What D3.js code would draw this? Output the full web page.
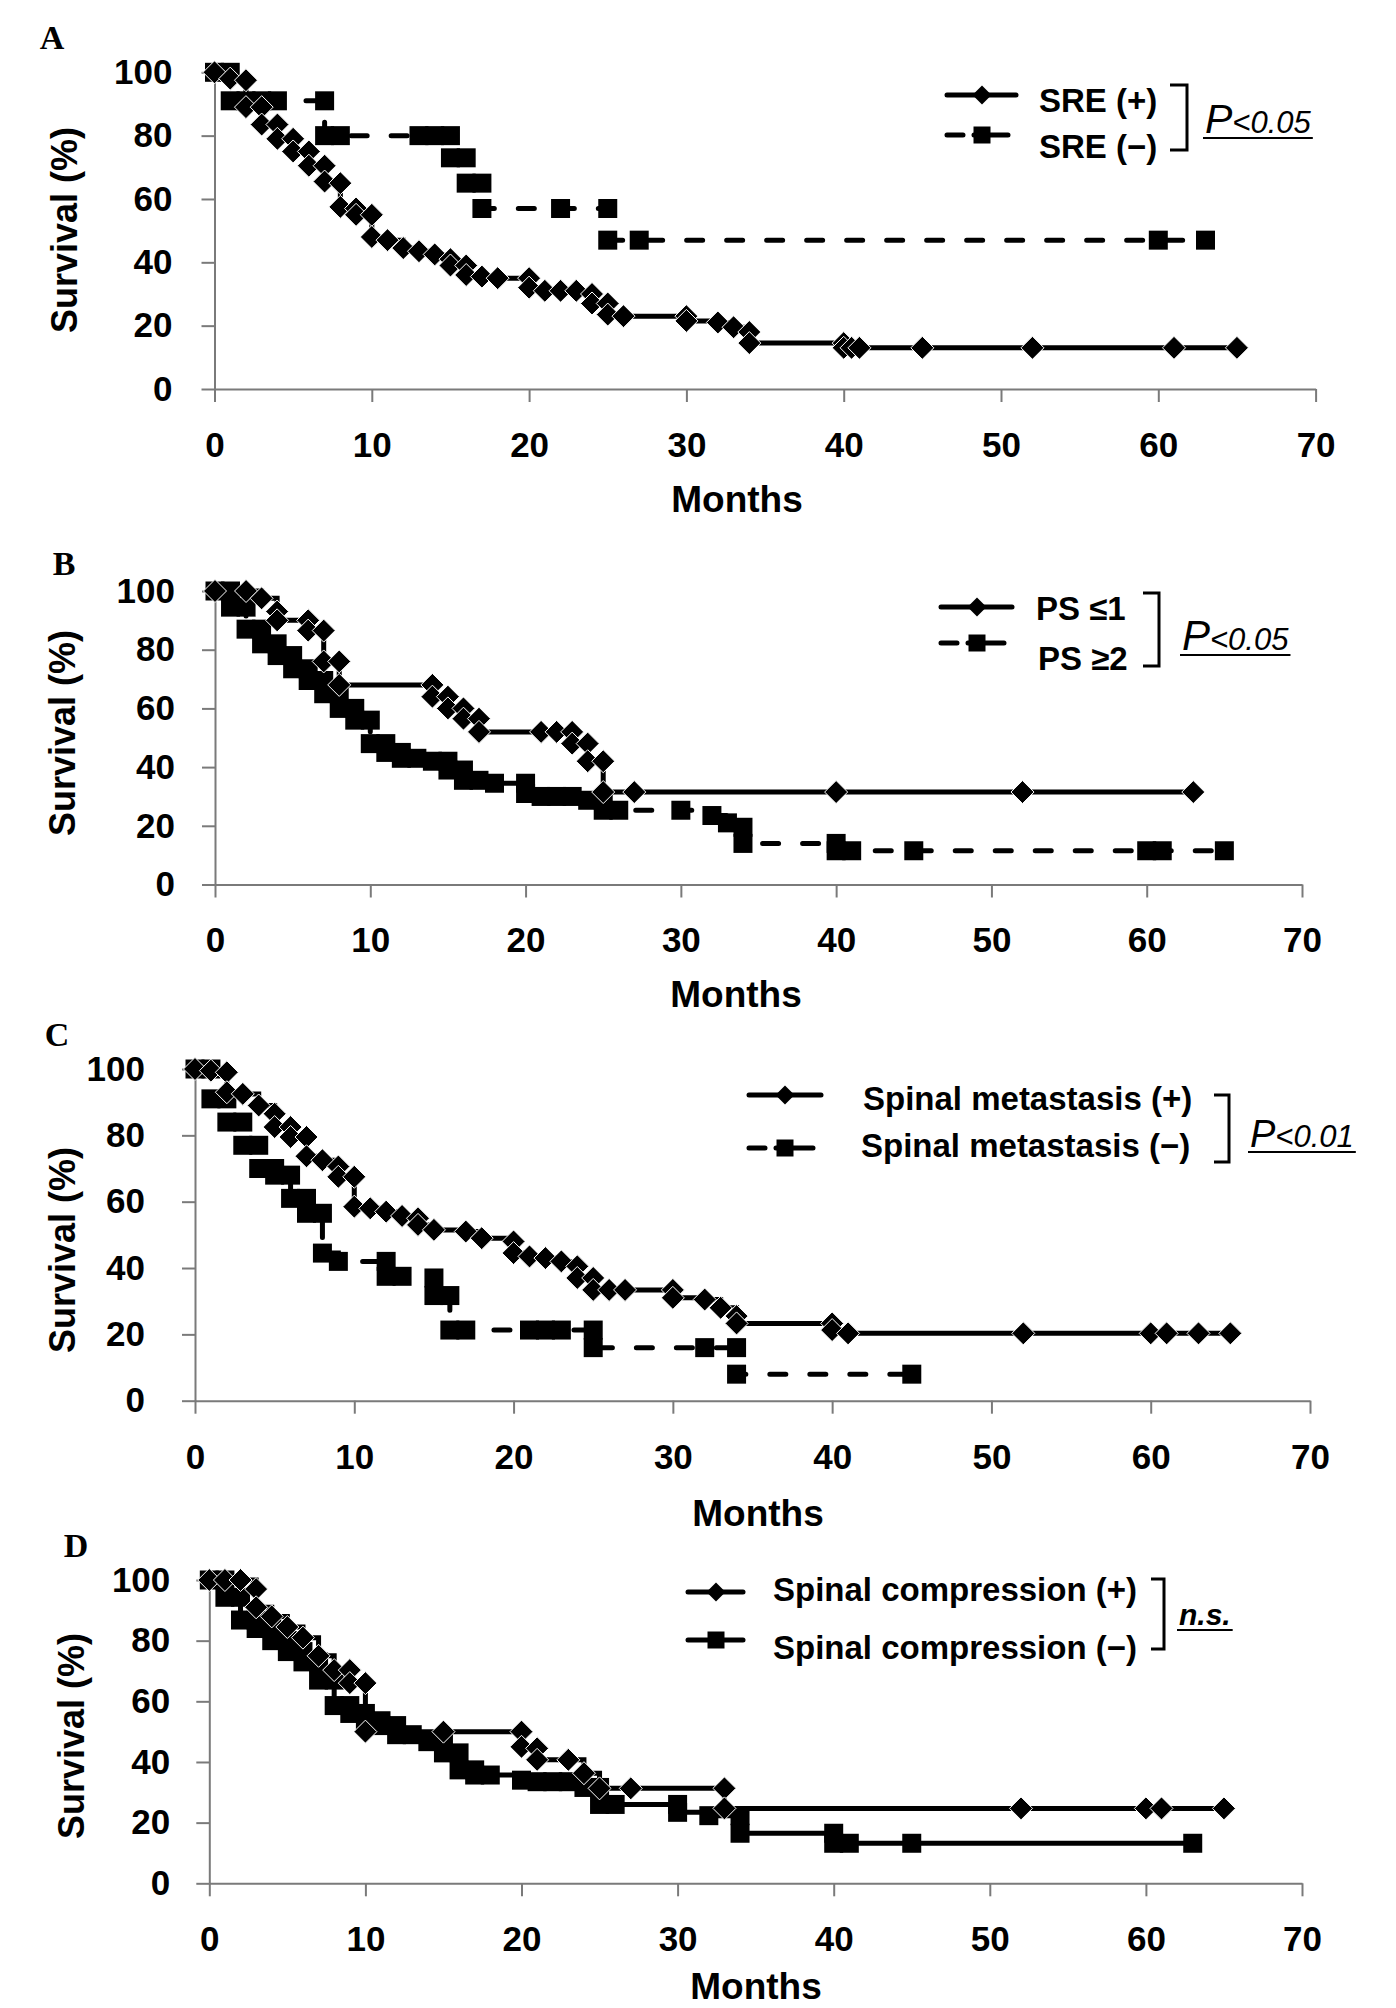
<!DOCTYPE html>
<html>
<head>
<meta charset="utf-8">
<script src="https://cdn.jsdelivr.net/npm/d3@7"></script>
<style>
  body { margin: 0; background: #fff; }
  text { font-family: "Liberation Sans", Arial, sans-serif; }
</style>
</head>
<body>
<div id="chart"></div>
<script>
// tick values shared by all four panels
var monthTicks = [0, 10, 20, 30, 40, 50, 60, 70];
var survivalTicks = [0, 20, 40, 60, 80, 100];

// A: SRE
var srePosMonths = [0, 1, 2, 2, 3, 3, 4, 4, 5, 5, 6, 6, 7, 7, 8, 8, 9, 9, 10, 10, 11, 12, 13, 14, 15, 15, 16, 16, 17, 18, 20, 20, 21, 22, 23, 24, 24, 25, 25, 26, 30, 30, 32, 33, 34, 34, 40, 40, 40.5, 41, 45, 52, 61, 65];
var srePosSurv = [100, 98, 97.5, 89, 89, 83.5, 83.5, 79, 79, 75, 75, 70.5, 70.5, 65.5, 65, 57.5, 57, 55, 55, 48, 47, 44.5, 43.5, 42.5, 41, 39, 39, 36, 35.5, 35, 35, 32, 31, 31, 31, 30, 27, 27, 23.5, 23, 23, 21.5, 21, 19.5, 18, 14.5, 14.5, 13, 13, 13, 13, 13, 13, 13];
var sreNegMonths = [0, 1, 1, 2, 3, 4, 7, 7, 8, 13, 14, 15, 15, 16, 16, 17, 17, 22, 25, 25, 27, 60, 63];
var sreNegSurv = [100, 100, 91, 91, 91, 91, 91, 80, 80, 80, 80, 80, 73, 73, 65, 65, 57, 57, 57, 47, 47, 47, 47];

// B: performance status
var psLowMonths = [0, 2, 3, 4, 4, 6, 6, 7, 7, 8, 8, 14, 14, 15, 15, 16, 16, 17, 17, 21, 22, 23, 23, 24, 24, 25, 25, 27, 40, 52, 63];
var psLowSurv = [100, 100, 97.5, 93, 90, 90, 86.5, 86.5, 76, 76, 68, 68, 64, 64, 60, 60, 56.5, 56.5, 52, 52, 52, 52, 48, 48, 42, 42, 31.5, 31.5, 31.5, 31.5, 31.5];
var psHighMonths = [0, 1, 1, 2, 2, 3, 3, 4, 4, 5, 5, 6, 6, 7, 7, 8, 8, 9, 9, 10, 10, 11, 11, 12, 12, 13, 14, 15, 15, 16, 16, 17, 18, 20, 20, 21, 22, 23, 24, 25, 25, 26, 30, 32, 33, 34, 34, 40, 40, 41, 45, 60, 61, 65];
var psHighSurv = [100, 100, 94.5, 94.5, 87, 87, 82, 82, 78, 78, 73.5, 73.5, 69.5, 69.5, 65, 65, 60, 60, 56, 56, 48, 48, 45, 45, 43, 43, 42, 42, 39, 39, 35.5, 35.5, 34.5, 34.5, 31, 30, 30, 30, 28.7, 28.7, 25.3, 25.3, 25.3, 23.5, 21, 19.5, 14, 14, 11.5, 11.5, 11.5, 11.5, 11.5, 11.5];

// C: spinal metastasis
var metPosMonths = [0, 1, 2, 2, 3, 4, 5, 5, 6, 6, 7, 7, 8, 9, 9, 10, 10, 11, 12, 13, 14, 14, 15, 17, 18, 20, 20, 21, 22, 23, 24, 24, 25, 25, 26, 27, 30, 30, 32, 33, 34, 34, 40, 40, 41, 52, 60, 61, 63, 65];
var metPosSurv = [100, 99.5, 99, 93, 92.5, 89, 86.5, 82.5, 82.5, 79.5, 79.5, 73.7, 72.5, 70.6, 67.5, 67.5, 58.5, 58, 57, 55.7, 55, 53, 51.5, 51, 49, 48, 44.5, 43.5, 43, 42, 40.5, 37, 37, 33.4, 33.4, 33.4, 33.4, 31, 30.5, 28, 25.5, 23.3, 23.3, 21.3, 20.3, 20.3, 20.3, 20.3, 20.3, 20.3];
var metNegMonths = [0, 1, 1, 2, 2, 3, 3, 4, 4, 5, 5, 6, 6, 7, 7, 8, 8, 9, 12, 12, 13, 15, 15, 16, 16, 17, 21, 22, 23, 25, 25, 32, 34, 34, 45];
var metNegSurv = [100, 100, 91, 91, 84, 84, 77, 77, 70, 70, 68, 68, 61, 61, 56.5, 56.5, 44.5, 42, 42, 37.5, 37.5, 37, 31.7, 31.7, 21.3, 21.3, 21.3, 21.3, 21.3, 21.3, 16, 16, 16, 8, 8];

// D: spinal compression
var compPosMonths = [0, 1, 2, 3, 3, 4, 5, 6, 7, 8, 9, 9, 10, 10, 15, 20, 20, 21, 21, 23, 24, 25, 27, 33, 33, 52, 60, 61, 65];
var compPosSurv = [100, 100, 100, 97, 91, 88, 84.5, 81, 75, 70.3, 70.3, 66, 66, 50, 50, 50, 45, 44.5, 40.7, 40.7, 36.3, 31.3, 31.3, 31.3, 24.7, 24.7, 24.7, 24.7, 24.7];
var compNegMonths = [0, 1, 1, 2, 2, 3, 3, 4, 4, 5, 5, 6, 6, 7, 7, 8, 8, 9, 9, 10, 10, 11, 11, 12, 12, 13, 14, 15, 15, 16, 16, 17, 17, 18, 20, 21, 22, 23, 24, 25, 25, 26, 30, 30, 32, 34, 34, 40, 40, 41, 45, 63];
var compNegSurv = [100, 100, 94.3, 94.3, 86.8, 86.8, 84, 84, 80, 80, 76.4, 76.4, 73, 73, 67, 67, 58.6, 58.6, 56, 56, 53.6, 53.6, 52, 52, 49, 49, 46.7, 46.7, 43, 43, 37.4, 37.4, 35.7, 35.7, 34, 33.5, 33.5, 33.5, 31.6, 31.6, 26, 26, 26, 23.4, 22.3, 22.3, 16.5, 16.5, 13.2, 13.2, 13.2, 13.2];

var width = 1396, height = 2008;
var diamondPath = 'M0,-11.5L11.5,0L0,11.5L-11.5,0Z';
var squarePath = 'M-9.5,-9.5h19v19h-19Z';
var legDiamond = 'M0,-9.5L9.5,0L0,9.5L-9.5,0Z';
var legSquare = 'M-8.5,-8.5h17v17h-17Z';

var panels = [
    { letter: 'A', lx: 52, ly: 49,
      left: 214.5, right: 1315.6, top: 72.3, bottom: 389, yPad: 29, monthsX: 737, monthsY: 512, survX: 64, survY: 230,
      series: [
          { m: sreNegMonths, s: sreNegSurv, mark: 'square', dashed: true },
          { m: srePosMonths, s: srePosSurv, mark: 'diamond', dashed: false }
      ],
      legend: { x1: 947, x2: 1016, mx: 982,
          rows: [ { ly: 95, ty: 112, tx: 1039, label: 'SRE (+)', mark: 'diamond', dashed: false },
                  { ly: 135, ty: 158, tx: 1039, label: 'SRE (\u2212)', mark: 'square', dashed: true } ],
          bx1: 1170, bx2: 1187, by1: 85, by2: 150,
          p: { x: 1205, y: 133, big: 'P', rest: '<0.05', bigSize: 41, restSize: 31 } } },
    { letter: 'B', lx: 64, ly: 575,
      left: 215, right: 1302, top: 591, bottom: 884.5, yPad: 27, monthsX: 736, monthsY: 1007, survX: 62, survY: 733,
      series: [
          { m: psHighMonths, s: psHighSurv, mark: 'square', dashed: true },
          { m: psLowMonths, s: psLowSurv, mark: 'diamond', dashed: false }
      ],
      legend: { x1: 941, x2: 1012, mx: 977,
          rows: [ { ly: 607, ty: 620, tx: 1036, label: 'PS \u22641', mark: 'diamond', dashed: false },
                  { ly: 643, ty: 670, tx: 1038, label: 'PS \u22652', mark: 'square', dashed: true } ],
          bx1: 1143, bx2: 1159, by1: 593, by2: 666,
          p: { x: 1182, y: 650, big: 'P', rest: '<0.05', bigSize: 42, restSize: 31 } } },
    { letter: 'C', lx: 57, ly: 1046,
      left: 195, right: 1310, top: 1069, bottom: 1400.7, yPad: 37, monthsX: 758, monthsY: 1526, survX: 62, survY: 1250,
      series: [
          { m: metNegMonths, s: metNegSurv, mark: 'square', dashed: true },
          { m: metPosMonths, s: metPosSurv, mark: 'diamond', dashed: false }
      ],
      legend: { x1: 749, x2: 821, mx: 785,
          rows: [ { ly: 1095, ty: 1110, tx: 863, label: 'Spinal metastasis (+)', mark: 'diamond', dashed: false },
                  { ly: 1148, ty: 1157, tx: 861, label: 'Spinal metastasis (\u2212)', mark: 'square', dashed: true } ],
          bx1: 1214, bx2: 1229, by1: 1095, by2: 1162,
          p: { x: 1250, y: 1147, big: 'P', rest: '<0.01', bigSize: 38, restSize: 31 } } },
    { letter: 'D', lx: 76, ly: 1557,
      left: 209.3, right: 1302, top: 1580, bottom: 1883.3, yPad: 26, monthsX: 756, monthsY: 1999, survX: 71, survY: 1736,
      series: [
          { m: compNegMonths, s: compNegSurv, mark: 'square', dashed: false },
          { m: compPosMonths, s: compPosSurv, mark: 'diamond', dashed: false }
      ],
      legend: { x1: 688, x2: 743, mx: 716,
          rows: [ { ly: 1592, ty: 1601, tx: 773, label: 'Spinal compression (+)', mark: 'diamond', dashed: false },
                  { ly: 1640, ty: 1659, tx: 773, label: 'Spinal compression (\u2212)', mark: 'square', dashed: false } ],
          bx1: 1151, bx2: 1164, by1: 1579, by2: 1649,
          ns: { x: 1179, y: 1625, text: 'n.s.' } } }
];

var svg = d3.select('#chart').append('svg')
    .attr('width', width)
    .attr('height', height)
    .style('display', 'block')
    .style('background', '#fff');

panels.forEach(function(p) {
    var x = d3.scaleLinear().domain([0, 70]).range([p.left, p.right]);
    var y = d3.scaleLinear().domain([0, 100]).range([p.bottom, p.top]);
    var g = svg.append('g');

    // panel letter
    g.append('text')
        .attr('x', p.lx).attr('y', p.ly)
        .attr('text-anchor', 'middle')
        .style('font-family', '"Liberation Serif", "Times New Roman", serif')
        .style('font-weight', 'bold')
        .style('font-size', '34px')
        .text(p.letter);

    var xAxis = g.append('g')
        .attr('transform', `translate(0,${p.bottom})`)
        .call(d3.axisBottom(x).tickValues(monthTicks).tickSize(13).tickSizeOuter(0).tickPadding(30));
    var yAxis = g.append('g')
        .attr('transform', `translate(${p.left},0)`)
        .call(d3.axisLeft(y).tickValues(survivalTicks).tickSize(13).tickSizeOuter(0).tickPadding(p.yPad));
    [xAxis, yAxis].forEach(function(a) {
        a.select('.domain').attr('stroke', '#7a7a7a').attr('stroke-width', 2);
        a.selectAll('.tick line').attr('stroke', '#7a7a7a').attr('stroke-width', 2);
        a.selectAll('.tick text')
            .attr('fill', '#000')
            .style('font-size', '35px')
            .style('font-weight', 'bold')
            .style('font-family', '"Liberation Sans", Arial, sans-serif');
    });

    g.append('text')
        .attr('x', p.monthsX).attr('y', p.monthsY)
        .attr('text-anchor', 'middle')
        .style('font-size', '37px').style('font-weight', 'bold')
        .text('Months');

    g.append('text')
        .attr('transform', `translate(${p.survX},${p.survY}) rotate(-90)`)
        .attr('text-anchor', 'middle')
        .attr('dy', '0.36em')
        .style('font-size', '36px').style('font-weight', 'bold')
        .text('Survival (%)');

    var line = d3.line()
        .x(d => x(d[0]))
        .y(d => y(d[1]))
        .curve(d3.curveStepAfter);

    p.series.forEach(function(s) {
        g.append('path')
            .datum(d3.zip(s.m, s.s))
            .attr('fill', 'none')
            .attr('stroke', '#000')
            .attr('stroke-width', 5)
            .attr('stroke-linecap', s.dashed ? 'round' : 'butt')
            .attr('stroke-dasharray', s.dashed ? '16,24' : null)
            .attr('d', line);
    });
    p.series.forEach(function(s) {
        g.append('g').selectAll('path')
            .data(d3.zip(s.m, s.s))
            .enter().append('path')
            .attr('transform', d => `translate(${x(d[0])},${y(d[1])})`)
            .attr('d', s.mark === 'diamond' ? diamondPath : squarePath)
            .attr('fill', '#000')
            .attr('stroke', s.mark === 'diamond' ? '#fff' : 'none')
            .attr('stroke-width', 1);
    });

    // legend
    var L = p.legend;
    L.rows.forEach(function(r) {
        g.append('line')
            .attr('x1', L.x1).attr('x2', r.dashed ? L.x2 - 8 : L.x2)
            .attr('y1', r.ly).attr('y2', r.ly)
            .attr('stroke', '#000').attr('stroke-width', 5)
            .attr('stroke-linecap', 'round')
            .attr('stroke-dasharray', r.dashed ? '16,11,400' : null);
        g.append('path')
            .attr('transform', `translate(${L.mx},${r.ly})`)
            .attr('d', r.mark === 'diamond' ? legDiamond : legSquare)
            .attr('fill', '#000');
        g.append('text')
            .attr('x', r.tx).attr('y', r.ty)
            .style('font-size', '33px').style('font-weight', 'bold')
            .text(r.label);
    });

    g.append('path')
        .attr('d', `M${L.bx1},${L.by1}H${L.bx2}V${L.by2}H${L.bx1}`)
        .attr('fill', 'none')
        .attr('stroke', '#000')
        .attr('stroke-width', 3);

    var t;
    if (L.p) {
        t = g.append('text')
            .attr('x', L.p.x).attr('y', L.p.y)
            .style('font-style', 'italic');
        t.append('tspan').style('font-size', L.p.bigSize + 'px').text(L.p.big);
        t.append('tspan').style('font-size', L.p.restSize + 'px').text(L.p.rest);
    } else {
        t = g.append('text')
            .attr('x', L.ns.x).attr('y', L.ns.y)
            .style('font-style', 'italic').style('font-weight', 'bold')
            .style('font-size', '30px')
            .text(L.ns.text);
    }
    var tw = t.node().getComputedTextLength();
    var tx = +t.attr('x'), ty = +t.attr('y');
    g.append('line')
        .attr('x1', tx - 2).attr('x2', tx + tw + 2)
        .attr('y1', ty + 5).attr('y2', ty + 5)
        .attr('stroke', '#000').attr('stroke-width', 2);
});
</script>
</body>
</html>
